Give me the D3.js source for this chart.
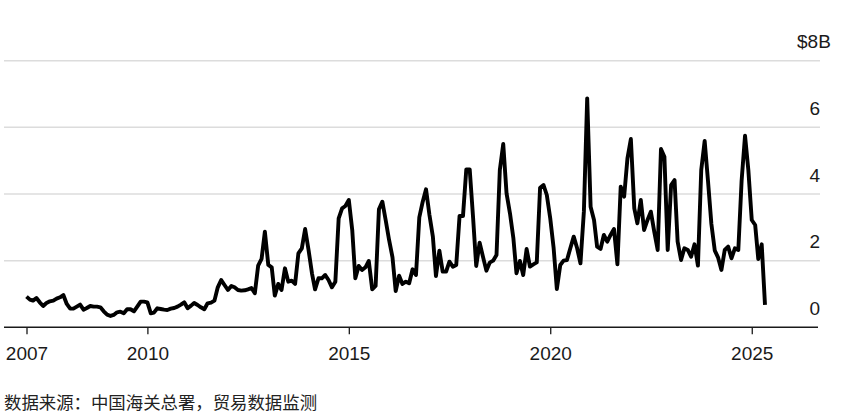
<!DOCTYPE html>
<html>
<head>
<meta charset="utf-8">
<script src="https://cdn.jsdelivr.net/npm/d3@7"></script>
<style>
  html, body { margin: 0; padding: 0; background: #fff; }
  svg { display: block; }
</style>
</head>
<body>
<svg id="chart" width="844" height="418"></svg>
<script>
// ---- data (monthly, Jan 2007 .. May 2025, billions USD) ----
const startYear = 2007;
const startMonth = 0; // January
const values2007 = [0.92, 0.83, 0.80, 0.88, 0.75, 0.64, 0.73, 0.78, 0.80, 0.86, 0.90, 0.97];
const values2008 = [0.70, 0.56, 0.56, 0.62, 0.68, 0.53, 0.58, 0.64, 0.62, 0.62, 0.60, 0.48];
const values2009 = [0.38, 0.34, 0.37, 0.45, 0.47, 0.42, 0.54, 0.54, 0.48, 0.62, 0.77, 0.77];
const values2010 = [0.75, 0.42, 0.44, 0.57, 0.55, 0.53, 0.52, 0.56, 0.58, 0.62, 0.68, 0.75];
const values2011 = [0.57, 0.65, 0.73, 0.67, 0.60, 0.54, 0.72, 0.74, 0.80, 1.20, 1.42, 1.27];
const values2012 = [1.12, 1.24, 1.20, 1.12, 1.10, 1.11, 1.14, 1.18, 1.02, 1.85, 2.05, 2.87];
const values2013 = [1.87, 1.80, 0.95, 1.30, 1.12, 1.77, 1.37, 1.40, 1.30, 2.22, 2.37, 2.95];
const values2014 = [2.32, 1.62, 1.14, 1.47, 1.47, 1.57, 1.42, 1.20, 1.37, 3.27, 3.57, 3.64];
const values2015 = [3.82, 2.92, 1.47, 1.84, 1.72, 1.80, 1.99, 1.14, 1.24, 3.54, 3.77, 3.22];
const values2016 = [2.62, 2.10, 1.09, 1.55, 1.30, 1.37, 1.32, 1.74, 1.57, 3.30, 3.77, 4.14];
const values2017 = [3.37, 2.72, 1.54, 2.30, 1.67, 1.67, 1.97, 1.82, 1.87, 3.34, 3.34, 4.74];
const values2018 = [4.74, 3.27, 1.84, 2.54, 2.12, 1.70, 1.94, 2.00, 2.17, 4.72, 5.50, 4.02];
const values2019 = [3.42, 2.67, 1.62, 1.99, 1.57, 2.35, 1.82, 1.89, 1.95, 4.19, 4.27, 3.97];
const values2020 = [3.27, 2.37, 1.15, 1.87, 2.00, 2.02, 2.37, 2.72, 2.37, 1.92, 3.47, 6.87];
const values2021 = [3.62, 3.22, 2.42, 2.35, 2.77, 2.57, 2.77, 2.95, 1.89, 4.22, 3.92, 5.07];
const values2022 = [5.65, 3.57, 3.12, 3.82, 2.92, 3.22, 3.47, 2.87, 2.32, 5.35, 5.12, 2.32];
const values2023 = [4.27, 4.42, 2.57, 2.02, 2.37, 2.32, 2.12, 2.49, 1.85, 4.72, 5.59, 4.40];
const values2024 = [3.10, 2.30, 2.10, 1.72, 2.32, 2.42, 2.07, 2.37, 2.32, 4.40, 5.75, 4.72];
const values2025 = [3.22, 3.07, 2.05, 2.49, 0.67];

const xTickYears = [2007, 2010, 2015, 2020, 2025];
const yTickValues = [0, 2, 4, 6, 8];
const yTickLabels = ["0", "2", "4", "6", "$8B"];
const sourceText = "数据来源：中国海关总署，贸易数据监测";

// ---- build series ----
const allValues = [].concat(values2007, values2008, values2009, values2010, values2011,
  values2012, values2013, values2014, values2015, values2016, values2017, values2018,
  values2019, values2020, values2021, values2022, values2023, values2024, values2025);
const series = allValues.map((v, i) => ({ date: new Date(startYear, startMonth + i, 1), value: v }));

const svg = d3.select("#chart");
const font = "'Liberation Sans', Arial, Helvetica, sans-serif";

const x = d3.scaleTime()
  .domain([new Date(2007, 0, 1), new Date(2025, 4, 1)])
  .range([26.5, 765]);
const y = d3.scaleLinear().domain([0, 8]).range([327.3, 60.7]);

const gridLeft = 4, gridRight = 820;

// gridlines
svg.append("g").selectAll("line")
  .data(yTickValues.filter(d => d !== 0))
  .join("line")
  .attr("x1", gridLeft).attr("x2", gridRight)
  .attr("y1", d => y(d)).attr("y2", d => y(d))
  .attr("stroke", "#dcdcdc").attr("stroke-width", 1.5);

// y labels
svg.append("g").selectAll("text")
  .data(yTickValues)
  .join("text")
  .attr("x", (d, i) => yTickLabels[i].length > 1 ? 797 : 820)
  .attr("y", d => y(d) - 12.3)
  .attr("text-anchor", (d, i) => yTickLabels[i].length > 1 ? "start" : "end")
  .attr("font-family", font).attr("font-size", 19).attr("fill", "#1a1a1a")
  .text((d, i) => yTickLabels[i]);

// x axis
const xAxis = d3.axisBottom(x)
  .tickValues(xTickYears.map(yr => new Date(yr, 0, 1)))
  .tickSize(7)
  .tickPadding(0)
  .tickFormat(d3.timeFormat("%Y"));

const gx = svg.append("g").attr("transform", `translate(0,${y(0)})`).call(xAxis);
gx.select(".domain").remove();
gx.selectAll(".tick line").attr("stroke", "#1a1a1a").attr("stroke-width", 1.3);
gx.selectAll(".tick text")
  .attr("y", 33).attr("dy", 0)
  .attr("font-family", font).attr("font-size", 19).attr("fill", "#1a1a1a");

svg.append("line")
  .attr("x1", gridLeft).attr("x2", 818)
  .attr("y1", y(0)).attr("y2", y(0))
  .attr("stroke", "#1a1a1a").attr("stroke-width", 1.4);

// line
const line = d3.line().x(d => x(d.date)).y(d => y(d.value));
svg.append("path")
  .datum(series)
  .attr("d", line)
  .attr("fill", "none")
  .attr("stroke", "#000")
  .attr("stroke-width", 3.9)
  .attr("stroke-linejoin", "round")
  .attr("stroke-linecap", "butt");

// source
svg.append("text")
  .attr("x", 4).attr("y", 409)
  .attr("font-family", "'Noto Sans CJK SC', sans-serif")
  .attr("font-size", 17.4).attr("fill", "#222")
  .text(sourceText);
</script>
</body>
</html>
